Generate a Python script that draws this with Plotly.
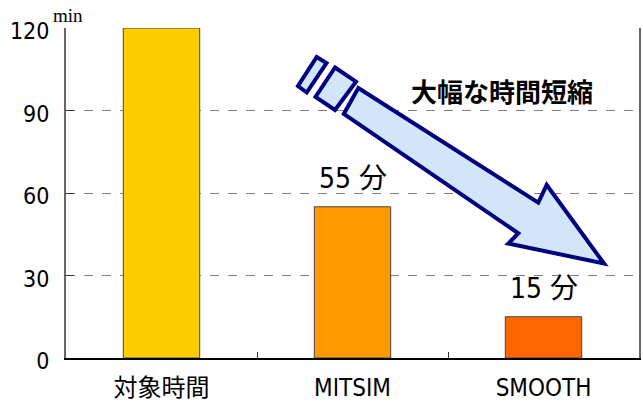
import plotly.graph_objects as go

categories = ["対象時間", "MITSIM", "SMOOTH"]
values = [120, 55, 15]
bar_colors = ["#FFCC00", "#FF9900", "#FF6600"]
label_values = [None, 55, 15]
y_ticks = [0, 30, 60, 90, 120]
unit_label = "min"
arrow_text = "大幅な時間短縮"

W, H = 643, 405
L, R, T, B = 66, 4, 28, 47
PW, PH = W - L - R, H - T - B

def px(x, y):
    return (x - L) / PW, (H - B - y) / PH

def path(points):
    pts = [px(x, y) for x, y in points]
    return "M " + " L ".join(f"{a:.5f},{b:.5f}" for a, b in pts) + " Z"

LAT = "DejaVu Sans Condensed, Noto Sans CJK JP, sans-serif"

fig = go.Figure()
fig.add_trace(go.Bar(
    x=categories, y=values, width=0.4,
    marker=dict(color=bar_colors, line=dict(color="#444444", width=1)),
))

for c, v in zip(categories, label_values):
    if v is None:
        continue
    fig.add_annotation(x=c, y=v, text=f"{v} 分", showarrow=False,
                       xanchor="center", yanchor="bottom", yshift=10,
                       font=dict(family=LAT, size=28, color="black"))

arrow_style = dict(type="path", xref="paper", yref="paper",
                   line=dict(color="#000080", width=4),
                   fillcolor="#D2E6FA", layer="above")
body = [(358.3, 88), (538.3, 202.7), (546.7, 185), (604, 263.5),
        (508.3, 243.5), (518.3, 233.3), (343.8, 114)]
rect2 = [(335, 67.5), (356, 81.7), (335, 110), (315.5, 97)]
rect1 = [(316.7, 57), (326.5, 63), (306.7, 92.5), (298, 86)]
for shp in (body, rect2, rect1):
    fig.add_shape(path=path(shp), **arrow_style)

tx, ty = px(502, 90)
fig.add_annotation(x=tx, y=ty, xref="paper", yref="paper", text=f"<b>{arrow_text}</b>",
                   xanchor="center", yanchor="middle",
                   showarrow=False, font=dict(family="Noto Sans CJK JP", size=26, color="black"))

ux, uy = px(68, 16)
fig.add_annotation(x=ux, y=uy, xref="paper", yref="paper", text=unit_label,
                   xanchor="center", yanchor="middle",
                   showarrow=False, font=dict(family="Liberation Serif, serif", size=19, color="black"))

fig.update_layout(
    width=W, height=H,
    margin=dict(l=L, r=R, t=T, b=B),
    paper_bgcolor="white", plot_bgcolor="white",
    showlegend=False,
    bargap=0.6,
    xaxis=dict(type="category", showgrid=False, showline=True, linecolor="black", linewidth=1.5,
               ticks="inside", tickson="boundaries", ticklen=6, tickcolor="#333333",
               automargin=False, ticklabelstandoff=7,
               tickfont=dict(family=LAT, size=24, color="black")),
    yaxis=dict(range=[0, 120], tickvals=y_ticks, showgrid=True, gridcolor="#808080",
               griddash="dash", gridwidth=1, showline=True, linecolor="#666666", linewidth=2,
               mirror=True, ticks="inside", ticklen=8, tickcolor="#333333",
               automargin=False,
               tickfont=dict(family=LAT, size=23, color="black"), zeroline=False,
               ticklabelstandoff=10, ticklabelshift=3),
)

fig.write_html("out.html", config={"displayModeBar": False},
               post_script="document.body.style.margin='0';document.body.style.padding='0';")
